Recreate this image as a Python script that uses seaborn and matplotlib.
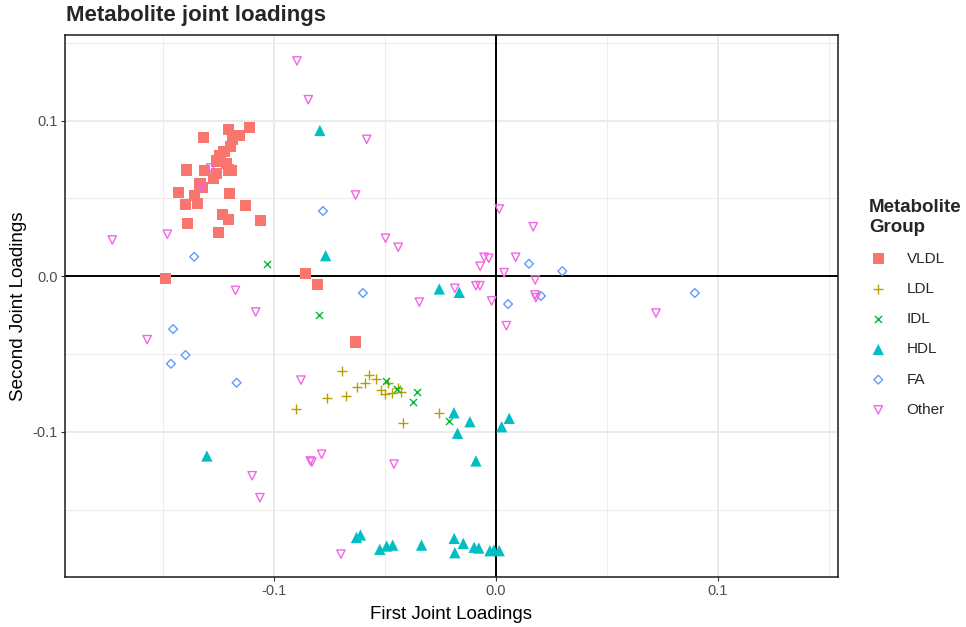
import numpy as np
import pandas as pd
import matplotlib
matplotlib.use("Agg")
import matplotlib.pyplot as plt
import seaborn as sns

# Joint loadings per metabolite group (first, second)
vldl_x = [-0.1111, -0.1206, -0.1318, -0.1156, -0.1186, -0.1195, -0.1225, -0.1243, -0.1258,
          -0.1213, -0.1393, -0.1314, -0.1258, -0.1206, -0.1191, -0.1273, -0.1333, -0.1321,
          -0.1431, -0.1201, -0.1359, -0.1400, -0.1344, -0.1126, -0.1233, -0.1206, -0.1059,
          -0.1389, -0.1251, -0.1490, -0.0859, -0.0805, -0.0631]
vldl_y = [0.0958, 0.0945, 0.0893, 0.0906, 0.0880, 0.0833, 0.0801, 0.0773, 0.0741,
          0.0726, 0.0683, 0.0677, 0.0662, 0.0683, 0.0677, 0.0627, 0.0593, 0.0572,
          0.0540, 0.0533, 0.0518, 0.0462, 0.0469, 0.0456, 0.0398, 0.0366, 0.0359,
          0.0340, 0.0282, -0.0014, 0.0019, -0.0052, -0.0423]

ldl_x = [-0.0695, -0.0572, -0.0541, -0.0590, -0.0627, -0.0485, -0.0519, -0.0500,
         -0.0470, -0.0440, -0.0428, -0.0673, -0.0763, -0.0902, -0.0258, -0.0420]
ldl_y = [-0.0608, -0.0633, -0.0663, -0.0689, -0.0713, -0.0689, -0.0732, -0.0758,
         -0.0753, -0.0717, -0.0743, -0.0770, -0.0781, -0.0852, -0.0878, -0.0946]

idl_x = [-0.1032, -0.0797, -0.0497, -0.0445, -0.0356, -0.0372, -0.0210]
idl_y = [0.0080, -0.0251, -0.0674, -0.0727, -0.0747, -0.0807, -0.0934]

hdl_x = [-0.0793, -0.0767, -0.0255, -0.0165, -0.0189, -0.0117, -0.0173, -0.0090,
         0.0026, 0.0060, -0.1302, -0.0628, -0.0610, -0.0523, -0.0492, -0.0465,
         -0.0335, -0.0188, -0.0147, -0.0185, -0.0098, -0.0077, -0.0027, -0.0009, 0.0015]
hdl_y = [0.0937, 0.0132, -0.0082, -0.0104, -0.0878, -0.0936, -0.1010, -0.1188,
         -0.0968, -0.0914, -0.1156, -0.1680, -0.1664, -0.1756, -0.1735, -0.1729,
         -0.1729, -0.1686, -0.1718, -0.1778, -0.1743, -0.1748, -0.1765, -0.1761, -0.1765]

fa_x = [-0.1359, -0.1454, -0.1398, -0.1464, -0.1168, -0.0779, -0.0599, 0.0149,
        0.0299, 0.0055, 0.0203, 0.0896]
fa_y = [0.0125, -0.0340, -0.0507, -0.0563, -0.0685, 0.0419, -0.0108, 0.0080,
        0.0033, -0.0179, -0.0127, -0.0108]

other_x = [-0.0896, -0.0845, -0.0582, -0.0632, -0.0497, -0.0440, -0.1284, -0.1326,
           -0.1480, -0.1728, -0.1571, -0.1173, -0.1082, -0.0878, -0.1098, -0.1063,
           -0.0829, -0.0836, -0.0785, -0.0459, -0.0698, -0.0345, -0.0185, -0.0090,
           -0.0072, -0.0019, 0.0047, 0.0015, 0.0168, -0.0053, -0.0032, -0.0071,
           0.0089, 0.0037, 0.0177, 0.0176, 0.0180, 0.0721]
other_y = [0.1384, 0.1135, 0.0880, 0.0522, 0.0244, 0.0186, 0.0696, 0.0572,
           0.0270, 0.0233, -0.0408, -0.0091, -0.0230, -0.0668, -0.1283, -0.1424,
           -0.1195, -0.1188, -0.1145, -0.1208, -0.1787, -0.0167, -0.0078, -0.0061,
           -0.0061, -0.0159, -0.0318, 0.0432, 0.0318, 0.0122, 0.0115, 0.0064,
           0.0122, 0.0023, -0.0024, -0.0121, -0.0138, -0.0237]

groups = ["VLDL", "LDL", "IDL", "HDL", "FA", "Other"]
xs = [vldl_x, ldl_x, idl_x, hdl_x, fa_x, other_x]
ys = [vldl_y, ldl_y, idl_y, hdl_y, fa_y, other_y]

df = pd.concat(
    [pd.DataFrame({"first": x, "second": y, "group": g}) for g, x, y in zip(groups, xs, ys)],
    ignore_index=True,
)

palette = ["#F8766D", "#B79F00", "#00BA38", "#00BFC4", "#619CFF", "#F564E3"]
# marker, size (pt^2), filled
styles = {
    "VLDL": ("s", 64, True),
    "LDL": ("+", 55, False),
    "IDL": ("x", 26, False),
    "HDL": ("^", 66, True),
    "FA": ("D", 20, False),
    "Other": ("v", 36, False),
}

sns.set_theme(style="white")
plt.rcParams["font.family"] = ["Liberation Sans", "DejaVu Sans"]

fig = plt.figure(figsize=(9.66, 6.27), dpi=100)
ax = fig.add_axes([65 / 966, 1 - 577 / 627, (838 - 65) / 966, (577 - 35) / 627])

# grid like a bw theme
for v in [-0.15, -0.05, 0.05, 0.15]:
    ax.axvline(v, color="#EDEDED", lw=0.75, zorder=0)
    ax.axhline(v, color="#EDEDED", lw=0.75, zorder=0)
for v in [-0.1, 0.0, 0.1]:
    ax.axvline(v, color="#EBEBEB", lw=1.4, zorder=0)
    ax.axhline(v, color="#EBEBEB", lw=1.4, zorder=0)

ax.axhline(0, color="black", lw=1.4, zorder=1)
ax.axvline(0, color="black", lw=1.4, zorder=1)

for g, c in zip(groups, palette):
    m, s, filled = styles[g]
    sub = df[df["group"] == g]
    if filled:
        kw = dict(color=c, edgecolor="none", linewidth=0)
    elif m in ("+", "x"):
        kw = dict(color=c, linewidth=1.0)
    else:
        kw = dict(facecolor="none", edgecolor=c, linewidth=1.0)
    sns.scatterplot(data=sub, x="first", y="second", marker=m, s=s, ax=ax,
                    label=g, zorder=3, legend=False, **kw)

ax.set_xlim(-0.1941, 0.1541)
ax.set_ylim(-0.1934, 0.1551)
ax.set_xticks([-0.1, 0.0, 0.1])
ax.set_xticklabels(["-0.1", "0.0", "0.1"])
ax.set_yticks([-0.1, 0.0, 0.1])
ax.set_yticklabels(["-0.1", "0.0", "0.1"])
ax.tick_params(axis="both", which="major", length=3, width=0.8, color="#333333",
               labelsize=10.5, labelcolor="#4D4D4D", pad=2, direction="out",
               bottom=True, left=True)
for sp in ax.spines.values():
    sp.set_color("#1A1A1A")
    sp.set_linewidth(1.1)

ax.set_xlabel("First Joint Loadings", fontsize=13.5, color="black", labelpad=6)
ax.set_ylabel("Second Joint Loadings", fontsize=13.5, color="black", labelpad=4)
fig.text(66 / 966, 1 - 16 / 627, "Metabolite joint loadings", fontsize=16,
         fontweight="bold", va="center", ha="left")

handles, labels = ax.get_legend_handles_labels()
leg = fig.legend(handles, labels, title="Metabolite\nGroup", loc="upper left",
                 bbox_to_anchor=(863 / 966, 1 - 193 / 627), frameon=False,
                 fontsize=11, title_fontproperties={"weight": "bold", "size": 13.5},
                 labelspacing=1.06, handletextpad=1.25, handlelength=1.2,
                 borderaxespad=0)
leg._legend_box.align = "left"

fig.savefig("out.png", dpi=100)
